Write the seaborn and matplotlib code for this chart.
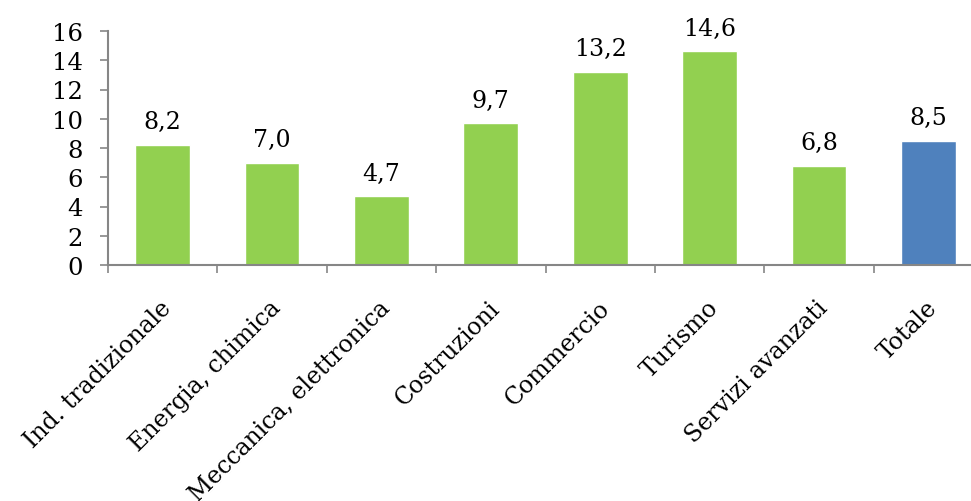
import matplotlib
matplotlib.use("Agg")
import matplotlib.pyplot as plt
import seaborn as sns
import pandas as pd

categories = ["Ind. tradizionale", "Energia, chimica", "Meccanica, elettronica",
              "Costruzioni", "Commercio", "Turismo", "Servizi avanzati", "Totale"]
values = [8.2, 7.0, 4.7, 9.7, 13.2, 14.6, 6.8, 8.5]
value_labels = ["8,2", "7,0", "4,7", "9,7", "13,2", "14,6", "6,8", "8,5"]
y_ticks = [0, 2, 4, 6, 8, 10, 12, 14, 16]

sns.set_theme(style="white")
plt.rcParams["font.family"] = ["DejaVu Serif"]
plt.rcParams["text.color"] = "black"
plt.rcParams["xtick.color"] = "black"
plt.rcParams["ytick.color"] = "black"

green = "#92D050"
blue = "#4F81BD"
axis_grey = "#868686"

df = pd.DataFrame({"settore": categories, "valore": values})
palette = [green] * (len(categories) - 1) + [blue]

fig = plt.figure(figsize=(9.71, 5.02), dpi=100)
ax = fig.add_axes([108 / 971, 1 - 266 / 502, 875 / 971, 234 / 502])

sns.barplot(data=df, x="settore", y="valore", hue="settore", palette=palette,
            width=0.5, legend=False, ax=ax, saturation=1)

ax.set_xlim(-0.5, len(categories) - 0.5)
ax.set_ylim(0, 16)
ax.set_yticks(y_ticks)
ax.set_yticklabels([str(t) for t in y_ticks], fontsize=17.5, color="black")
ax.set_xlabel("")
ax.set_ylabel("")

# category ticks sit between the bars, labels sit under the bar centres
ax.set_xticks([i - 0.5 for i in range(len(categories) + 1)])
ax.set_xticklabels([])
ax.tick_params(axis="x", direction="out", length=6, width=1.2, color=axis_grey, bottom=True)
ax.tick_params(axis="y", direction="out", length=6, width=1.2, color=axis_grey, left=True, pad=12)
for i, name in enumerate(categories):
    ax.annotate(name, xy=(i, 0), xycoords=("data", "axes fraction"),
                xytext=(4, -28), textcoords="offset points",
                rotation=45, rotation_mode="anchor", ha="right", va="center",
                fontsize=17, color="black")

for side in ["top", "right"]:
    ax.spines[side].set_visible(False)
for side in ["left", "bottom"]:
    ax.spines[side].set_color(axis_grey)
    ax.spines[side].set_linewidth(1.5)

for i, (v, lab) in enumerate(zip(values, value_labels)):
    ax.annotate(lab, xy=(i, v), xytext=(0, 12), textcoords="offset points",
                ha="center", va="baseline", fontsize=17, color="black")

fig.savefig("out.png", dpi=100)
